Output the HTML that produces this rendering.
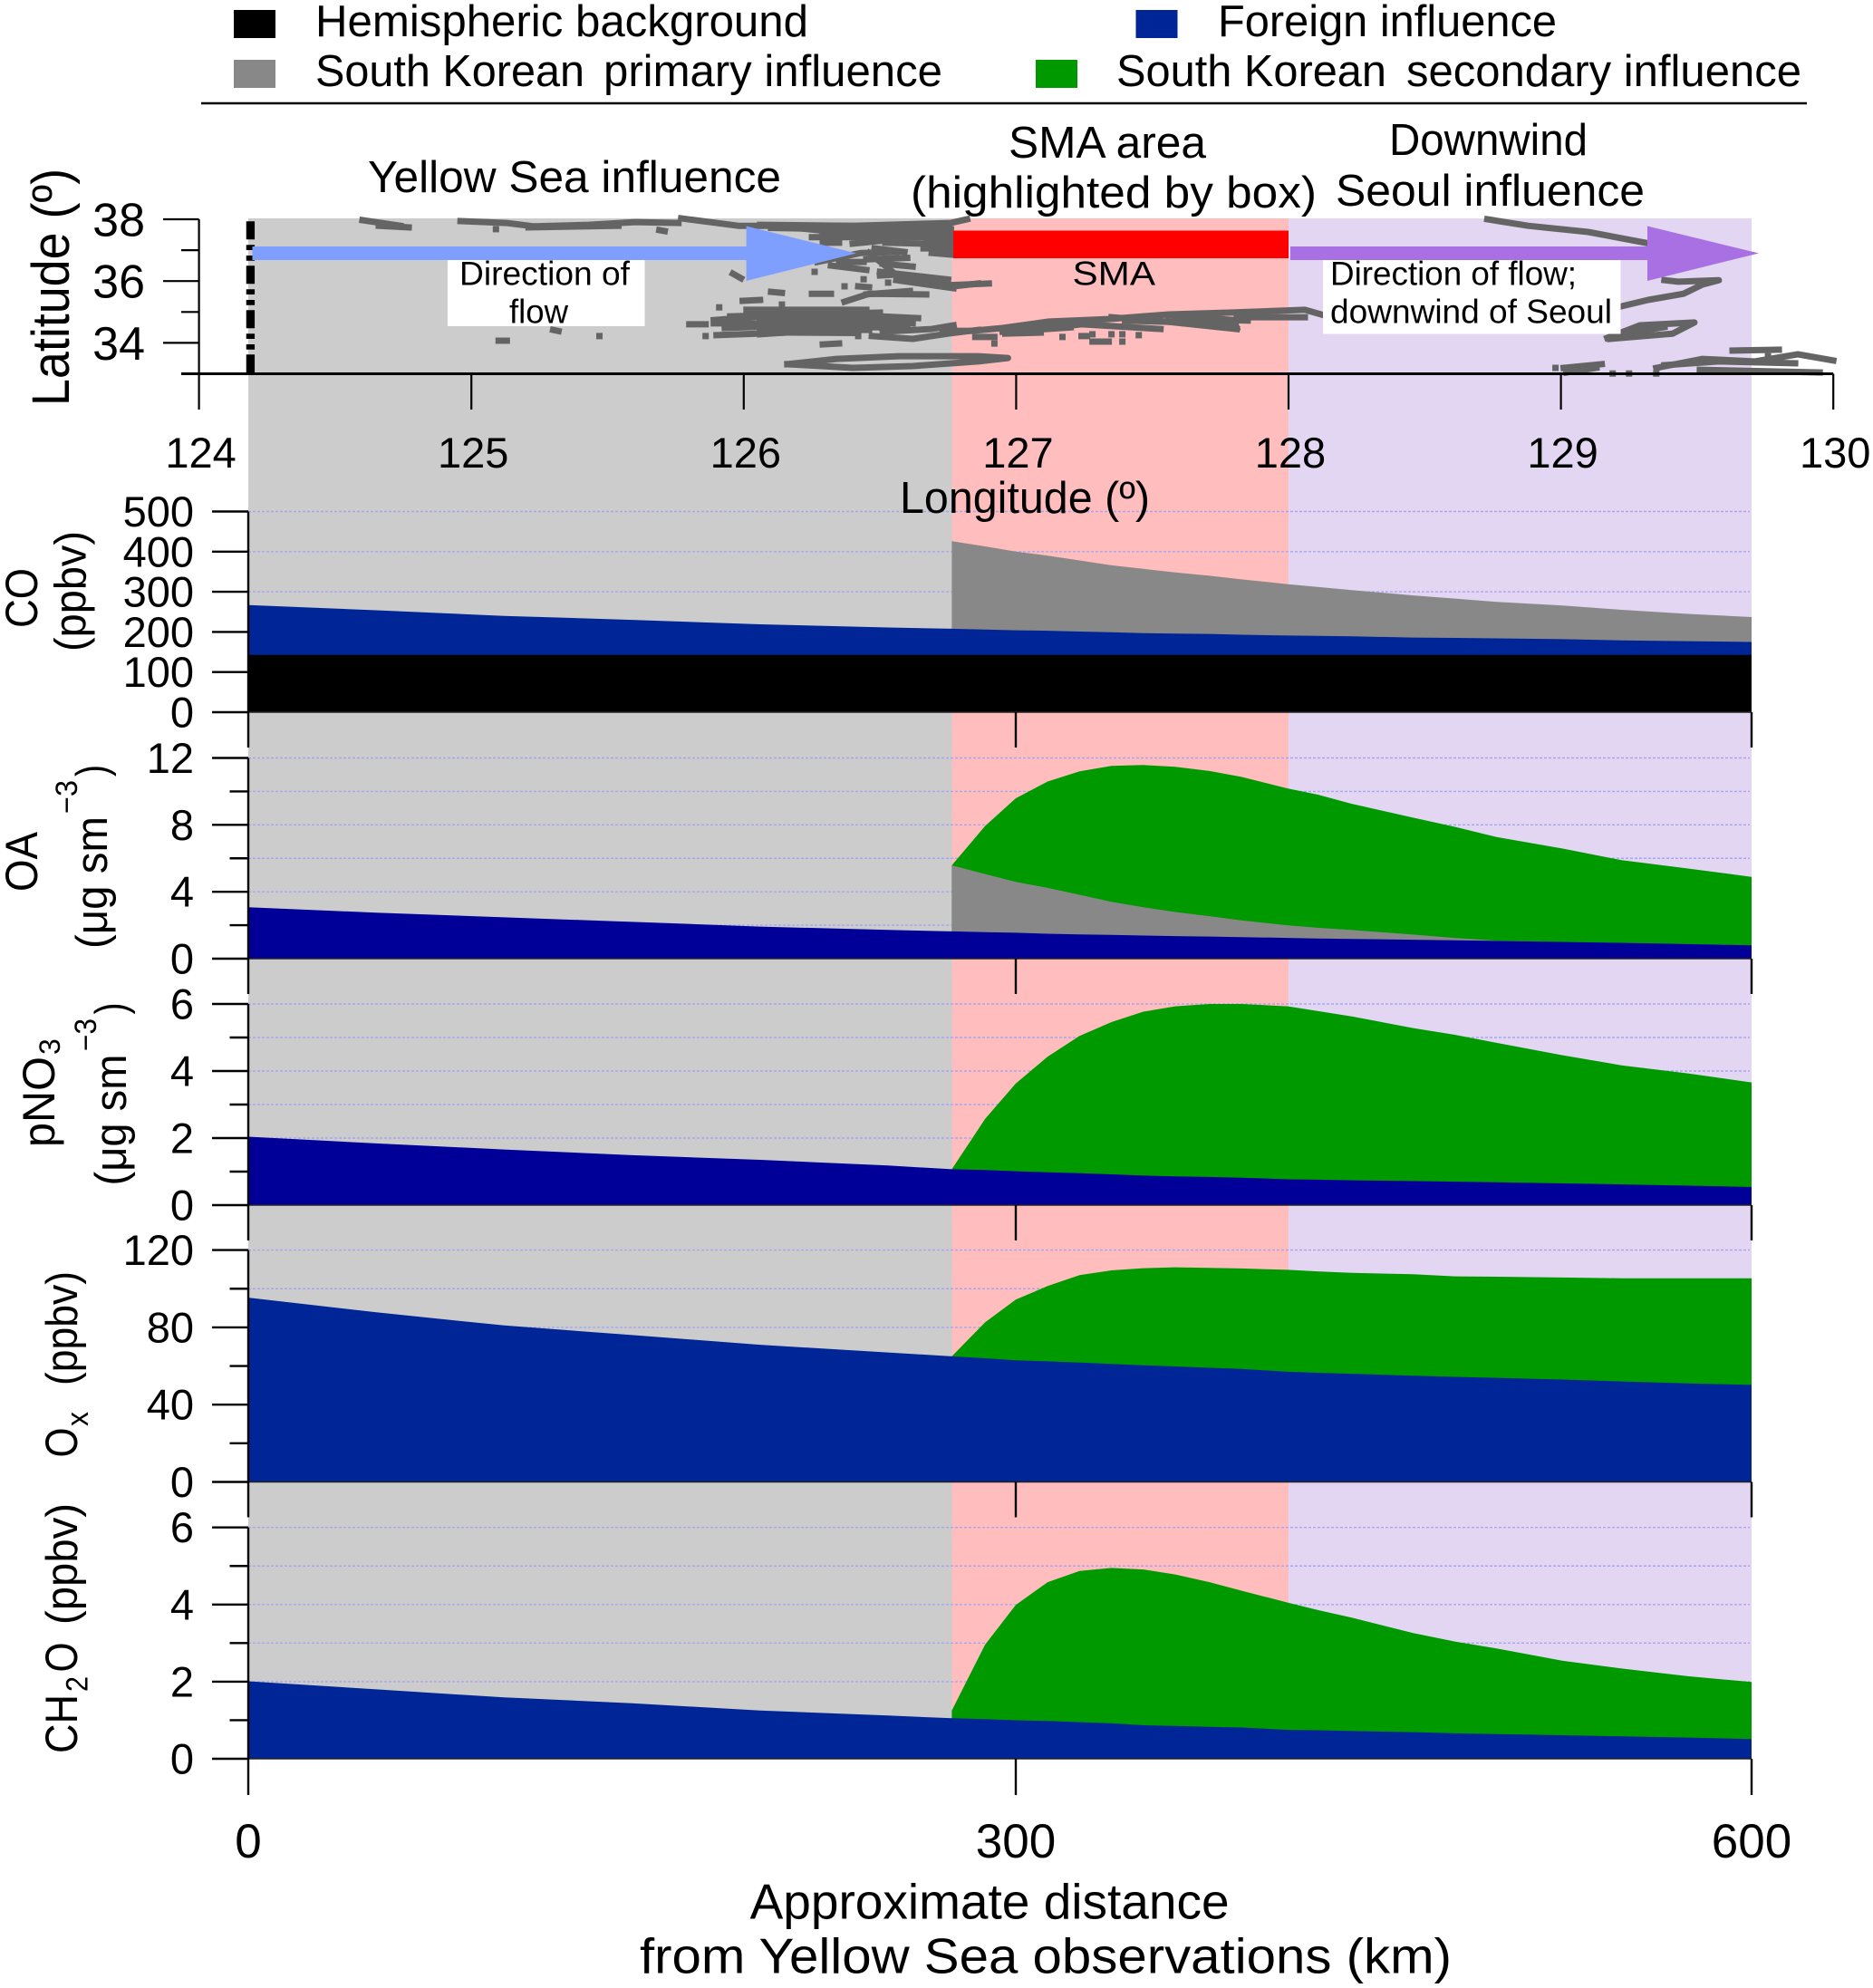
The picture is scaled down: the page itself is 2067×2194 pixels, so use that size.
<!DOCTYPE html>
<html lang="en">
<head>
<meta charset="utf-8">
<title>Influence regimes along the Yellow Sea to Seoul flow</title>
<style>
html,body{margin:0;padding:0;background:#fff;}
svg{display:block;}
text{font-family:"Liberation Sans",Arial,sans-serif;fill:#000;}
</style>
</head>
<body>
<svg id="chart" xmlns="http://www.w3.org/2000/svg" width="2067" height="2194" viewBox="0 0 2067 2194">
  <g id="regions">
    <rect x="274" y="241" width="776.5" height="1700" fill="#cccccc"/>
    <rect x="1050.5" y="241" width="371.5" height="1700" fill="#ffbdbd"/>
    <rect x="1422" y="241" width="511" height="1700" fill="#e3d6f2"/>
  </g>
  <g id="tracks"></g>
  <g id="grid"></g>
  <g id="areas"></g>
  <g id="axes"></g>

  <g>
    <rect x="258" y="11" width="46" height="31" fill="#000"/>
    <text x="348" y="40" font-size="49" textLength="544" lengthAdjust="spacingAndGlyphs">Hemispheric background</text>
    <rect x="1253.5" y="11" width="46" height="31" fill="#002596"/>
    <text x="1344" y="40" font-size="49" textLength="374" lengthAdjust="spacingAndGlyphs">Foreign influence</text>
    <rect x="258" y="66" width="46" height="31" fill="#888888"/>
    <text x="348" y="95" font-size="49" textLength="297" lengthAdjust="spacingAndGlyphs">South Korean</text>
    <text x="666" y="95" font-size="49" textLength="374" lengthAdjust="spacingAndGlyphs">primary influence</text>
    <rect x="1143" y="66" width="46" height="31" fill="#009900"/>
    <text x="1232" y="95" font-size="49" textLength="298" lengthAdjust="spacingAndGlyphs">South Korean</text>
    <text x="1552" y="95" font-size="49" textLength="436" lengthAdjust="spacingAndGlyphs">secondary influence</text>
    <line x1="222" y1="114" x2="1994" y2="114" stroke="#000" stroke-width="2.6"/>
  </g>

  <g>
    <text x="406" y="212" font-size="49" textLength="456" lengthAdjust="spacingAndGlyphs">Yellow Sea influence</text>
    <text x="1113" y="174" font-size="49" textLength="218" lengthAdjust="spacingAndGlyphs">SMA area</text>
    <text x="1005" y="229" font-size="49" textLength="448" lengthAdjust="spacingAndGlyphs">(highlighted by box)</text>
    <text x="1533" y="171" font-size="49" textLength="219" lengthAdjust="spacingAndGlyphs">Downwind</text>
    <text x="1474" y="227" font-size="49" textLength="341" lengthAdjust="spacingAndGlyphs">Seoul influence</text>
  </g>

  <g>
    <line x1="276.4" y1="244.3" x2="276.4" y2="411.5" stroke="#000" stroke-width="9.3" stroke-dasharray="20 6 5.7 6 5.7 5.6"/>
    <rect x="494" y="287" width="217.5" height="73" fill="#fff"/>
    <rect x="1460" y="287" width="328.5" height="81.5" fill="#fff"/>
    <polygon points="278.5,272 823.6,272 823.6,249.5 945,279.5 823.6,310 823.6,287 278.5,287" fill="#7f9fff"/>
    <polygon points="1424,272 1818,272 1818,249.5 1941,279.5 1818,310 1818,287 1424,287" fill="#a970e3"/>
    <rect x="1052" y="254.5" width="370" height="30.5" fill="#ff0000"/>
    <text x="507" y="314.6" font-size="37" textLength="188" lengthAdjust="spacingAndGlyphs">Direction of</text>
    <text x="562" y="356.7" font-size="37" textLength="65" lengthAdjust="spacingAndGlyphs">flow</text>
    <text x="1183.5" y="314.6" font-size="37" textLength="91.5" lengthAdjust="spacingAndGlyphs">SMA</text>
    <text x="1468" y="314.6" font-size="37" textLength="272" lengthAdjust="spacingAndGlyphs">Direction of flow;</text>
    <text x="1468" y="356.7" font-size="37" textLength="311" lengthAdjust="spacingAndGlyphs">downwind of Seoul</text>
  </g>

  <g>
    <text x="993" y="566" font-size="49" textLength="276" lengthAdjust="spacingAndGlyphs">Longitude (º)</text>
    <text transform="translate(76 448) rotate(-90)" font-size="58" textLength="262" lengthAdjust="spacingAndGlyphs">Latitude (º)</text>

    <text transform="translate(41 693) rotate(-90)" font-size="50" textLength="66" lengthAdjust="spacingAndGlyphs">CO</text>
    <text transform="translate(94.5 719) rotate(-90)" font-size="49" textLength="133" lengthAdjust="spacingAndGlyphs">(ppbv)</text>

    <text transform="translate(41 984) rotate(-90)" font-size="50" textLength="66" lengthAdjust="spacingAndGlyphs">OA</text>
    <text transform="translate(118 1047) rotate(-90)" font-size="49" textLength="146" lengthAdjust="spacingAndGlyphs">(μg sm</text>
    <text transform="translate(85 898) rotate(-90)" font-size="34" textLength="37" lengthAdjust="spacingAndGlyphs">−3</text>
    <text transform="translate(118 857) rotate(-90)" font-size="49" textLength="13" lengthAdjust="spacingAndGlyphs">)</text>

    <text transform="translate(60 1266) rotate(-90)" font-size="50" textLength="100" lengthAdjust="spacingAndGlyphs">pNO</text>
    <text transform="translate(66 1164) rotate(-90)" font-size="32">3</text>
    <text transform="translate(139 1308.5) rotate(-90)" font-size="49" textLength="145" lengthAdjust="spacingAndGlyphs">(μg sm</text>
    <text transform="translate(106 1160) rotate(-90)" font-size="34" textLength="36" lengthAdjust="spacingAndGlyphs">−3</text>
    <text transform="translate(139 1119.5) rotate(-90)" font-size="49" textLength="13" lengthAdjust="spacingAndGlyphs">)</text>

    <text transform="translate(85 1608.5) rotate(-90)" font-size="50" textLength="33" lengthAdjust="spacingAndGlyphs">O</text>
    <text transform="translate(97 1574) rotate(-90)" font-size="34" textLength="16" lengthAdjust="spacingAndGlyphs">x</text>
    <text transform="translate(85 1529) rotate(-90)" font-size="49" textLength="126" lengthAdjust="spacingAndGlyphs">(ppbv)</text>

    <text transform="translate(85 1935) rotate(-90)" font-size="50" textLength="65" lengthAdjust="spacingAndGlyphs">CH</text>
    <text transform="translate(96.7 1867) rotate(-90)" font-size="34" textLength="17" lengthAdjust="spacingAndGlyphs">2</text>
    <text transform="translate(85 1845.5) rotate(-90)" font-size="50" textLength="33" lengthAdjust="spacingAndGlyphs">O</text>
    <text transform="translate(85 1793) rotate(-90)" font-size="49" textLength="134" lengthAdjust="spacingAndGlyphs">(ppbv)</text>

    <text x="827.6" y="2117.5" font-size="55" textLength="529" lengthAdjust="spacingAndGlyphs">Approximate distance</text>
    <text x="706" y="2177.5" font-size="55" textLength="896" lengthAdjust="spacingAndGlyphs">from Yellow Sea observations (km)</text>
  </g>
</svg>
<script>
// ---------- Data: distance grids (km) ----------
const upwindKm = [0, 50, 100, 150, 200, 250];
const plumeKm = [275, 288, 300, 313, 326, 339, 352, 365, 379, 392, 411, 423, 437, 462, 479, 496, 523, 547, 574, 600];
const distanceTicks = [0, 300, 600];

// ---------- Data: stacked tops of each layer ----------
const coBackground = [143];
const coForeignUpwind = [267, 254, 240, 230, 219, 211];
const coForeignPlume = [208, 206, 204, 203, 201, 199, 197, 196, 195, 193, 191, 190, 189, 186, 185, 184, 182, 179, 177, 175];
const coPrimaryPlume = [426, 413, 400, 390, 378, 366, 357, 348, 340, 331, 319, 312, 304, 291, 283, 275, 266, 255, 245, 237];

const oaForeignUpwind = [3.07, 2.75, 2.47, 2.2, 1.92, 1.72];
const oaForeignPlume = [1.63, 1.59, 1.55, 1.49, 1.45, 1.42, 1.38, 1.35, 1.32, 1.29, 1.24, 1.21, 1.18, 1.13, 1.10, 1.06, 1.00, 0.95, 0.87, 0.80];
const oaPrimaryPlume = [5.58, 5.06, 4.59, 4.23, 3.82, 3.40, 3.07, 2.79, 2.54, 2.29, 1.99, 1.85, 1.71, 1.44, 1.24, 1.08, 1.00, 0.95, 0.87, 0.80];
const oaSecondaryPlume = [5.58, 7.93, 9.59, 10.59, 11.20, 11.53, 11.58, 11.47, 11.22, 10.87, 10.17, 9.81, 9.26, 8.43, 7.88, 7.27, 6.58, 5.89, 5.39, 4.89];

const no3ForeignUpwind = [2.04, 1.84, 1.66, 1.49, 1.35, 1.18];
const no3ForeignPlume = [1.07, 1.05, 1.01, 0.98, 0.95, 0.92, 0.88, 0.86, 0.84, 0.82, 0.77, 0.76, 0.74, 0.72, 0.70, 0.68, 0.65, 0.62, 0.58, 0.54];
const no3SecondaryPlume = [1.07, 2.57, 3.63, 4.43, 5.05, 5.46, 5.77, 5.93, 6.0, 6.0, 5.93, 5.79, 5.63, 5.28, 5.08, 4.84, 4.47, 4.17, 3.93, 3.66];

const oxForeignUpwind = [95.4, 87.8, 81, 76, 71, 67];
const oxForeignPlume = [65, 64, 63, 62.4, 61.8, 61.1, 60.4, 59.8, 59.1, 58.5, 57, 56.5, 56, 55, 54.4, 53.9, 53, 52, 51, 50.2];
const oxSecondaryPlume = [65, 82.6, 94.4, 101.4, 107, 109.5, 110.6, 111.1, 110.8, 110.5, 109.8, 109, 108.2, 107.5, 106.4, 106.2, 105.8, 105.4, 105.4, 105.4];

const ch2oForeignUpwind = [2.01, 1.80, 1.59, 1.44, 1.25, 1.12];
const ch2oForeignPlume = [1.05, 1.03, 1.0, 0.98, 0.95, 0.92, 0.87, 0.85, 0.83, 0.81, 0.75, 0.74, 0.72, 0.69, 0.66, 0.64, 0.61, 0.58, 0.55, 0.51];
const ch2oSecondaryPlume = [1.25, 2.96, 3.99, 4.58, 4.87, 4.95, 4.91, 4.78, 4.58, 4.36, 4.05, 3.86, 3.66, 3.26, 3.04, 2.86, 2.54, 2.34, 2.14, 1.99];

// ---------- Data: y-axis ticks ----------
const coMajorTicks = [0, 100, 200, 300, 400, 500];
const coMinorTicks = [];
const oaMajorTicks = [0, 4, 8, 12];
const oaMinorTicks = [2, 6, 10];
const no3MajorTicks = [0, 2, 4, 6];
const no3MinorTicks = [1, 3, 5];
const oxMajorTicks = [0, 40, 80, 120];
const oxMinorTicks = [20, 60, 100];
const ch2oMajorTicks = [0, 2, 4, 6];
const ch2oMinorTicks = [1, 3, 5];

// ---------- Data: map axes and flight tracks (lon, lat pairs) ----------
const lonTicks = [124, 125, 126, 127, 128, 129, 130];
const latMajorTicks = [34, 36, 38];
const latMinorTicks = [35, 37];
const flightTracks = [
  [[124.60,37.97],[124.74,37.79]],
  [[124.66,37.79],[124.77,37.74]],
  [[124.96,37.94],[125.13,37.88],[125.23,37.77],[125.43,37.82],[125.60,37.91],[125.76,37.88]],
  [[125.21,37.74],[125.54,37.79]],
  [[125.77,38.03],[125.98,37.79],[126.40,37.79]],
  [[126.06,37.82],[126.40,37.79],[126.76,37.88],[126.82,38.0]],
  [[126.14,37.79],[126.34,37.65],[126.43,37.74],[126.69,37.74],[126.76,37.68]],
  [[126.17,37.74],[126.40,37.53],[126.56,37.50],[126.76,37.50]],
  [[126.29,37.59],[126.43,37.44],[126.66,37.53]],
  [[126.10,37.72],[126.76,37.62]],
  [[126.25,37.42],[126.76,37.42]],
  [[126.29,37.24],[126.35,37.24]],
  [[126.40,37.21],[126.50,37.30]],
  [[126.52,37.24],[126.65,37.21]],
  [[126.67,37.38],[126.76,37.35]],
  [[126.67,37.24],[126.76,37.21]],
  [[126.66,37.06],[126.76,37.06]],
  [[126.69,36.91],[126.77,36.85]],
  [[126.27,36.62],[126.43,36.91],[126.56,36.94]],
  [[126.48,37.06],[126.59,36.94]],
  [[126.32,36.50],[126.45,36.36]],
  [[126.35,36.62],[126.44,36.62]],
  [[126.46,36.91],[126.51,36.56],[126.55,36.27]],
  [[126.51,36.56],[126.62,36.47]],
  [[126.45,36.70],[126.60,36.75]],
  [[126.50,36.18],[126.56,36.21],[126.77,35.83],[126.86,35.92]],
  [[126.50,36.30],[126.75,36.05]],
  [[126.56,36.03],[126.77,35.77]],
  [[126.57,36.18],[126.72,35.98]],
  [[126.26,36.30],[126.26,36.30]],
  [[126.44,36.06],[126.44,36.06]],
  [[126.37,35.83],[126.37,35.83]],
  [[126.42,35.83],[126.46,35.80]],
  [[126.53,35.95],[126.53,35.95]],
  [[126.10,35.65],[126.14,35.62]],
  [[126.25,35.59],[126.32,35.59]],
  [[126.42,34.22],[126.42,34.22]],
  [[126.29,33.95],[126.35,33.98]],
  [[126.37,35.33],[126.46,35.59],[126.67,35.57]],
  [[126.45,35.57],[126.61,35.68]],
  [[126.01,35.07],[126.45,35.07]],
  [[126.06,34.80],[126.19,34.89],[126.43,34.89],[126.64,34.80]],
  [[126.06,34.60],[126.17,34.57],[126.29,34.74],[126.62,34.63]],
  [[126.06,34.42],[126.20,34.42],[126.34,34.57],[126.54,34.57]],
  [[126.06,34.28],[126.29,34.42],[126.46,34.42]],
  [[126.06,34.70],[126.55,34.72]],
  [[126.06,34.52],[126.60,34.50]],
  [[126.06,34.34],[126.40,34.32]],
  [[125.95,34.86],[126.50,34.98]],
  [[126.14,35.24],[126.14,34.95]],
  [[126.47,34.22],[126.62,34.13],[126.75,34.30],[126.86,34.42]],
  [[126.51,34.36],[126.69,34.45],[126.77,34.57]],
  [[126.16,33.31],[126.34,33.48],[126.57,33.57],[126.86,33.57],[126.97,33.51],[126.86,33.40],[126.62,33.25],[126.40,33.19],[126.16,33.31]],
  [[125.80,34.60],[125.86,34.60]],
  [[125.89,34.74],[126.15,34.92]],
  [[125.90,34.25],[126.15,34.33],[126.31,34.39]],
  [[125.89,34.63],[126.31,34.63]],
  [[125.93,34.48],[126.31,34.60]],
  [[126.01,34.92],[126.31,34.77]],
  [[125.996,35.36],[126.06,35.39]],
  [[125.96,36.24],[125.99,36.09]],
  [[125.10,34.07],[125.13,34.07]],
  [[125.30,34.42],[125.32,34.38]],
  [[125.47,34.22],[125.47,34.22]],
  [[125.09,37.68],[125.09,37.68]],
  [[125.69,37.65],[125.71,37.62]],
  [[125.86,34.22],[125.86,34.22]],
  [[125.91,35.15],[125.91,35.15]],
  [[126.73,34.39],[126.84,34.39],[126.95,34.48],[127.12,34.69],[127.34,34.77],[127.56,34.92],[127.78,34.98],[128.06,35.07],[128.12,34.92]],
  [[126.85,34.19],[126.92,34.19]],
  [[126.96,34.30],[127.09,34.33]],
  [[126.96,34.48],[127.09,34.54],[127.23,34.69]],
  [[126.95,34.36],[127.20,34.50]],
  [[127.09,34.45],[127.24,34.60],[127.53,34.45]],
  [[127.35,34.83],[127.55,34.69],[127.81,34.45]],
  [[127.40,34.72],[127.80,34.62]],
  [[127.60,34.78],[127.85,34.72]],
  [[127.56,34.89],[127.80,34.74],[127.81,34.48]],
  [[127.62,34.63],[127.78,34.54]],
  [[127.81,34.83],[128.06,34.83]],
  [[127.17,34.19],[127.17,34.19]],
  [[127.24,34.22],[127.26,34.22]],
  [[127.28,34.28],[127.28,34.28]],
  [[127.28,34.04],[127.34,34.04]],
  [[127.35,34.28],[127.35,34.28]],
  [[127.39,34.28],[127.39,34.28]],
  [[127.39,34.04],[127.39,34.04]],
  [[127.45,34.25],[127.45,34.25]],
  [[126.92,33.98],[126.92,33.98]],
  [[126.73,35.86],[126.90,35.92]],
  [[128.73,38.0],[128.88,37.79],[129.10,37.59],[129.31,37.24]],
  [[129.38,36.03],[129.43,35.98],[129.58,36.03],[129.52,35.89],[129.45,35.59],[129.32,35.39],[129.22,35.18]],
  [[129.17,34.16],[129.29,34.57],[129.49,34.66],[129.41,34.30],[129.18,34.13]],
  [[129.23,34.30],[129.38,34.51]],
  [[129.01,33.19],[129.15,33.31]],
  [[129.02,33.04],[129.13,33.19]],
  [[128.98,33.19],[128.98,33.19]],
  [[129.19,33.01],[129.19,33.01]],
  [[129.25,33.01],[129.25,33.01]],
  [[129.35,33.01],[129.35,33.01]],
  [[129.35,33.19],[129.52,33.48],[129.71,33.40],[129.87,33.63],[130.0,33.43]],
  [[129.38,33.28],[129.58,33.40],[129.86,33.34]],
  [[129.51,33.13],[129.95,33.04]],
  [[129.63,33.75],[129.80,33.78]],
  [[129.76,33.57],[129.76,33.57]]
];

// ---------- Axis functions ----------
const NS = 'http://www.w3.org/2000/svg';
function xKm(d) {
  return d <= 300 ? 274 + (d / 300) * 847 : 1121 + ((d - 300) / 300) * 812;
}
function xLon(lon) {
  return 219.6 + (lon - 124) * 300.6;
}
function yLat(lat) {
  return 412.5 - (lat - 33) * 34.1;
}
function yScale(zeroY, topY, maxV) {
  return function (v) { return zeroY - (v / maxV) * (zeroY - topY); };
}
function draw(tag, attrs, parent) {
  const el = document.createElementNS(NS, tag);
  for (const k in attrs) el.setAttribute(k, attrs[k]);
  parent.appendChild(el);
  return el;
}

const gTracks = document.getElementById('tracks');
const gGrid = document.getElementById('grid');
const gAreas = document.getElementById('areas');
const gAxes = document.getElementById('axes');

// ---------- Flight tracks ----------
flightTracks.forEach(function (track) {
  const pts = track.map(function (p) { return xLon(p[0]).toFixed(1) + ',' + yLat(p[1]).toFixed(1); }).join(' ');
  const el = draw('polyline', { points: pts, fill: 'none', stroke: '#646464', 'stroke-width': 7, 'stroke-linejoin': 'round', 'stroke-linecap': 'square' }, gTracks);
  
  
});

// ---------- Map axes ----------
function mapAxes() {
  const h = draw('line', { x1: 200, y1: yLat(33), x2: xLon(130), y2: yLat(33), stroke: '#000', 'stroke-width': 3 }, gAxes);
  
  
  const v = draw('line', { x1: xLon(124), y1: yLat(38), x2: xLon(124), y2: yLat(33), stroke: '#000', 'stroke-width': 2.2 }, gAxes);
  
  
  lonTicks.forEach(function (lon) {
    const t = draw('line', { x1: xLon(lon), y1: yLat(33), x2: xLon(lon), y2: yLat(33) + 39.5, stroke: '#000', 'stroke-width': 2.2 }, gAxes);
    
    
    const l = draw('text', { x: xLon(lon) + 2, y: 516, 'font-size': 47, 'text-anchor': 'middle' }, gAxes);
    l.textContent = String(lon);
    
    
  });
  latMajorTicks.forEach(function (lat) {
    const t = draw('line', { x1: 180, y1: yLat(lat), x2: xLon(124), y2: yLat(lat), stroke: '#000', 'stroke-width': 2.2 }, gAxes);
    
    
    const l = draw('text', { x: 160, y: yLat(lat) + 18.5, 'font-size': 52, 'text-anchor': 'end' }, gAxes);
    l.textContent = String(lat);
    
    
  });
  latMinorTicks.forEach(function (lat) {
    const t = draw('line', { x1: 200, y1: yLat(lat), x2: xLon(124), y2: yLat(lat), stroke: '#000', 'stroke-width': 2.2 }, gAxes);
    
    
  });
}
mapAxes();

// ---------- Area panel ----------
function areaPath(kms, tops, y, zeroY) {
  let d = 'M' + xKm(kms[0]).toFixed(1) + ' ' + zeroY;
  kms.forEach(function (k, i) { d += 'L' + xKm(k).toFixed(1) + ' ' + y(tops[i]).toFixed(1); });
  d += 'L' + xKm(kms[kms.length - 1]).toFixed(1) + ' ' + zeroY + 'Z';
  return d;
}
function panel(cfg) {
  const y = yScale(cfg.zeroY, cfg.topY, cfg.maxV);
  const allTicks = cfg.major.concat(cfg.minor);

  allTicks.forEach(function (v) {
    if (v === 0) return;
    const g = draw('line', { x1: 274, y1: y(v), x2: 1931, y2: y(v), stroke: '#a6a6ee', 'stroke-width': 1.4, 'stroke-dasharray': '3 2' }, gGrid);
    
    
  });

  if (cfg.secondary) {
    const a = draw('path', { d: areaPath(plumeKm, cfg.secondary, y, cfg.zeroY), fill: '#009900' }, gAreas);
    
    
  }
  if (cfg.primary) {
    const a = draw('path', { d: areaPath(plumeKm, cfg.primary, y, cfg.zeroY), fill: '#888888' }, gAreas);
    
    
  }
  const kmAll = upwindKm.concat(plumeKm);
  const foreignAll = cfg.foreignUp.concat(cfg.foreignPlume);
  const f = draw('path', { d: areaPath(kmAll, foreignAll, y, cfg.zeroY), fill: cfg.blue }, gAreas);
  
  
  if (cfg.background) {
    const bgVals = kmAll.map(function () { return cfg.background[0]; });
    const b = draw('path', { d: areaPath(kmAll, bgVals, y, cfg.zeroY), fill: '#000' }, gAreas);
    
    
  }

  const zero = draw('line', { x1: 274, y1: cfg.zeroY, x2: 1933, y2: cfg.zeroY, stroke: '#222', 'stroke-width': 1.4 }, gAxes);
  
  

  const axis = draw('line', { x1: 274, y1: cfg.topY, x2: 274, y2: cfg.axisEnd, stroke: '#000', 'stroke-width': 2.4 }, gAxes);
  
  

  cfg.major.forEach(function (v) {
    const t = draw('line', { x1: 234, y1: y(v), x2: 274, y2: y(v), stroke: '#000', 'stroke-width': 2.4 }, gAxes);
    
    
    const l = draw('text', { x: 214, y: y(v) + 16.5, 'font-size': 47, 'text-anchor': 'end' }, gAxes);
    l.textContent = String(v);
    
    
  });
  cfg.minor.forEach(function (v) {
    const t = draw('line', { x1: 253.5, y1: y(v), x2: 274, y2: y(v), stroke: '#000', 'stroke-width': 2.4 }, gAxes);
    
    
  });
  distanceTicks.forEach(function (k) {
    if (k === 0) return;
    const t = draw('line', { x1: xKm(k), y1: cfg.zeroY, x2: xKm(k), y2: cfg.axisEnd, stroke: '#000', 'stroke-width': 2.4 }, gAxes);
    
    
  });
}

panel({ name: 'co', zeroY: 786, topY: 564.5, maxV: 500, axisEnd: 825, major: coMajorTicks, minor: coMinorTicks, blue: '#002596', foreignUp: coForeignUpwind, foreignPlume: coForeignPlume, primary: coPrimaryPlume, background: coBackground });
panel({ name: 'oa', zeroY: 1058, topY: 836.5, maxV: 12, axisEnd: 1097, major: oaMajorTicks, minor: oaMinorTicks, blue: '#000099', foreignUp: oaForeignUpwind, foreignPlume: oaForeignPlume, primary: oaPrimaryPlume, secondary: oaSecondaryPlume });
panel({ name: 'pno3', zeroY: 1330, topY: 1108, maxV: 6, axisEnd: 1369, major: no3MajorTicks, minor: no3MinorTicks, blue: '#000099', foreignUp: no3ForeignUpwind, foreignPlume: no3ForeignPlume, secondary: no3SecondaryPlume });
panel({ name: 'ox', zeroY: 1635.5, topY: 1379.6, maxV: 120, axisEnd: 1674.5, major: oxMajorTicks, minor: oxMinorTicks, blue: '#002596', foreignUp: oxForeignUpwind, foreignPlume: oxForeignPlume, secondary: oxSecondaryPlume });
panel({ name: 'ch2o', zeroY: 1941, topY: 1685.7, maxV: 6, axisEnd: 1981, major: ch2oMajorTicks, minor: ch2oMinorTicks, blue: '#002596', foreignUp: ch2oForeignUpwind, foreignPlume: ch2oForeignPlume, secondary: ch2oSecondaryPlume });

distanceTicks.forEach(function (k) {
  const l = draw('text', { x: xKm(k), y: 2050, 'font-size': 53, 'text-anchor': 'middle' }, gAxes);
  l.textContent = String(k);
  
  
});
</script>
</body>
</html>
